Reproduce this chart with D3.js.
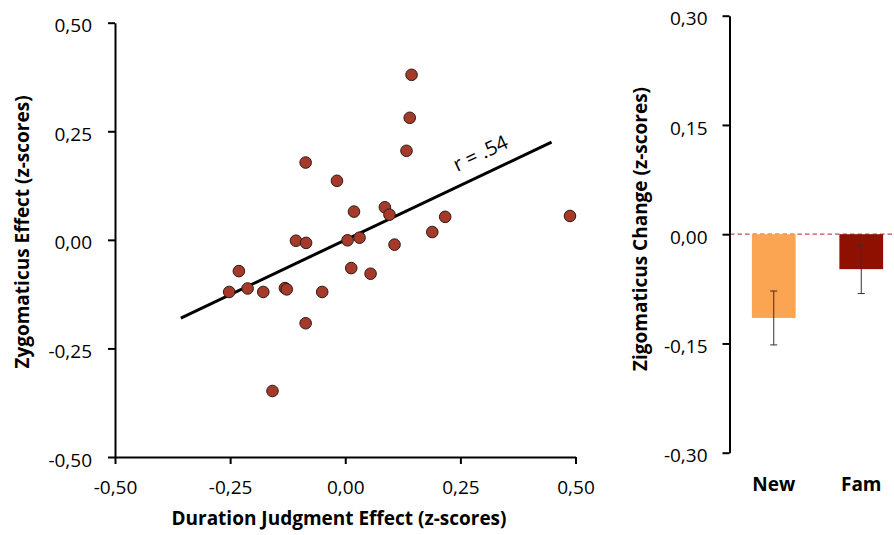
<!DOCTYPE html>
<html>
<head>
<meta charset="utf-8">
<script src="https://cdn.jsdelivr.net/npm/d3@7"></script>
<style>
    body { margin: 0; background: #fff; }
    svg { display: block; font-family: "Open Sans", sans-serif; }
</style>
</head>
<body>
<script>
'use strict';

// scatter: duration judgment effect vs zygomaticus effect (z-scores)
const durationEffect = [
    0.144, 0.140, 0.133, -0.086, -0.018, 0.019, 0.086, 0.096, 0.217, 0.488,
    0.189, 0.005, 0.031, 0.107, -0.107, -0.085, 0.013, 0.055, -0.050, -0.086,
    -0.231, -0.252, -0.212, -0.178, -0.131, -0.127, -0.158
];
const zygomaticusEffect = [
    0.380, 0.281, 0.205, 0.178, 0.136, 0.065, 0.075, 0.058, 0.053, 0.055,
    0.018, -0.001, 0.005, -0.011, -0.002, -0.007, -0.065, -0.078, -0.120, -0.192,
    -0.072, -0.120, -0.112, -0.120, -0.111, -0.114, -0.348
];
// regression line end points
const fitX = [-0.357, 0.448];
const fitY = [-0.180, 0.225];
const fitLabel = "r = .54";

const scatterTicks = [-0.5, -0.25, 0, 0.25, 0.5];

// bar chart: zigomaticus change per condition
const barCategories = ["New", "Fam"];
const barMeans = [-0.115, -0.048];
const barErrors = [0.037, 0.0335];
const barColors = ["#fba552", "#8f0f00"];
const barTicks = [-0.3, -0.15, 0, 0.15, 0.3];

const locale = d3.formatLocale({ decimal: ",", thousands: ".", grouping: [3], currency: ["", ""], minus: "-" });
const fmt = locale.format(".2f");

const svg = d3.select("body").append("svg")
    .attr("width", 894)
    .attr("height", 535);

// ---------- scatter plot ----------
const x = d3.scaleLinear().domain([-0.5, 0.5]).range([115, 575.5]);
const y = d3.scaleLinear().domain([-0.5, 0.5]).range([457, 22.7]);

function styleAxis(g) {
    g.selectAll("path.domain").attr("stroke", "#000").attr("stroke-width", 2);
    g.selectAll(".tick line").attr("stroke", "#000").attr("stroke-width", 2);
    g.selectAll(".tick text").attr("fill", "#000")
        .style("font-family", "'Open Sans', sans-serif")
        .style("font-size", "19px");
}

svg.append("g")
    .attr("transform", "translate(0," + y(-0.5) + ")")
    .call(d3.axisBottom(x).tickValues(scatterTicks).tickFormat(fmt)
        .tickSize(7).tickSizeOuter(0).tickPadding(17))
    .call(styleAxis);

svg.append("g")
    .attr("transform", "translate(" + x(-0.5) + ",0)")
    .call(d3.axisLeft(y).tickValues(scatterTicks).tickFormat(fmt)
        .tickSize(7).tickSizeOuter(0).tickPadding(16))
    .call(styleAxis)
    .selectAll(".tick text").attr("dy", "0.48em");

// regression line
svg.append("line")
    .attr("x1", x(fitX[0])).attr("y1", y(fitY[0]))
    .attr("x2", x(fitX[1])).attr("y2", y(fitY[1]))
    .attr("stroke", "#000")
    .attr("stroke-width", 3);

// points
svg.append("g").selectAll("circle")
    .data(durationEffect)
    .enter()
    .append("circle")
    .attr("cx", (d) => x(d))
    .attr("cy", (d, i) => y(zygomaticusEffect[i]))
    .attr("r", 5.8)
    .attr("fill", "#a53a2b")
    .attr("stroke", "#2e1a14")
    .attr("stroke-width", 1);

// r label along the line
const slope = (fitY[1] - fitY[0]) / (fitX[1] - fitX[0]);
const labelX = 0.243;
const labelY = fitY[0] + slope * (labelX - fitX[0]);
const angle = Math.atan2(y(fitY[1]) - y(fitY[0]), x(fitX[1]) - x(fitX[0])) * 180 / Math.PI;
svg.append("text")
    .attr("transform", "translate(" + x(labelX) + "," + (y(labelY) - 15) + ") rotate(" + angle + ")")
    .style("font-size", "20px")
    .text(fitLabel);

// axis titles
svg.append("text")
    .attr("x", 339)
    .attr("y", 525)
    .attr("text-anchor", "middle")
    .style("font-size", "19px")
    .style("font-weight", "bold")
    .text("Duration Judgment Effect (z-scores)");

svg.append("text")
    .attr("transform", "translate(29,232) rotate(-90)")
    .attr("text-anchor", "middle")
    .style("font-size", "19px")
    .style("font-weight", "bold")
    .text("Zygomaticus Effect (z-scores)");

// ---------- bar chart ----------
const yb = d3.scaleLinear().domain([-0.3, 0.3]).range([452.7, 15.7]);
const xb = d3.scaleBand().domain(barCategories).range([730, 905])
    .paddingInner(0.5).paddingOuter(0.25);

// zero reference line
svg.append("line")
    .attr("x1", 730).attr("x2", 894)
    .attr("y1", yb(0)).attr("y2", yb(0))
    .attr("stroke", "#c0504d")
    .attr("stroke-width", 1.2)
    .attr("stroke-dasharray", "4.5,3");

svg.append("g").selectAll("rect")
    .data(barMeans)
    .enter()
    .append("rect")
    .attr("x", (d, i) => xb(barCategories[i]))
    .attr("y", (d) => yb(Math.max(0, d)))
    .attr("width", xb.bandwidth())
    .attr("height", (d) => Math.abs(yb(d) - yb(0)))
    .attr("fill", (d, i) => barColors[i]);

// error bars
const err = svg.append("g").selectAll("g")
    .data(barMeans)
    .enter()
    .append("g")
    .attr("stroke", "#333")
    .attr("stroke-width", 1);

err.append("line")
    .attr("x1", (d, i) => xb(barCategories[i]) + xb.bandwidth() / 2)
    .attr("x2", (d, i) => xb(barCategories[i]) + xb.bandwidth() / 2)
    .attr("y1", (d, i) => yb(d + barErrors[i]))
    .attr("y2", (d, i) => yb(d - barErrors[i]));

[1, -1].forEach((s) => {
    err.append("line")
        .attr("x1", (d, i) => xb(barCategories[i]) + xb.bandwidth() / 2 - 3.5)
        .attr("x2", (d, i) => xb(barCategories[i]) + xb.bandwidth() / 2 + 3.5)
        .attr("y1", (d, i) => yb(d + s * barErrors[i]))
        .attr("y2", (d, i) => yb(d + s * barErrors[i]));
});

svg.append("g")
    .attr("transform", "translate(729.5,0)")
    .call(d3.axisLeft(yb).tickValues(barTicks).tickFormat(fmt)
        .tickSize(7).tickSizeOuter(0).tickPadding(15))
    .call(styleAxis)
    .selectAll(".tick text").attr("dy", "0.48em");

// category labels
svg.append("g").selectAll("text")
    .data(barCategories)
    .enter()
    .append("text")
    .attr("x", (d) => xb(d) + xb.bandwidth() / 2)
    .attr("y", 491)
    .attr("text-anchor", "middle")
    .style("font-size", "19px")
    .style("font-weight", "bold")
    .text((d) => d);

svg.append("text")
    .attr("transform", "translate(647,229) rotate(-90)")
    .attr("text-anchor", "middle")
    .style("font-size", "19px")
    .style("font-weight", "bold")
    .text("Zigomaticus Change (z-scores)");
</script>
</body>
</html>
